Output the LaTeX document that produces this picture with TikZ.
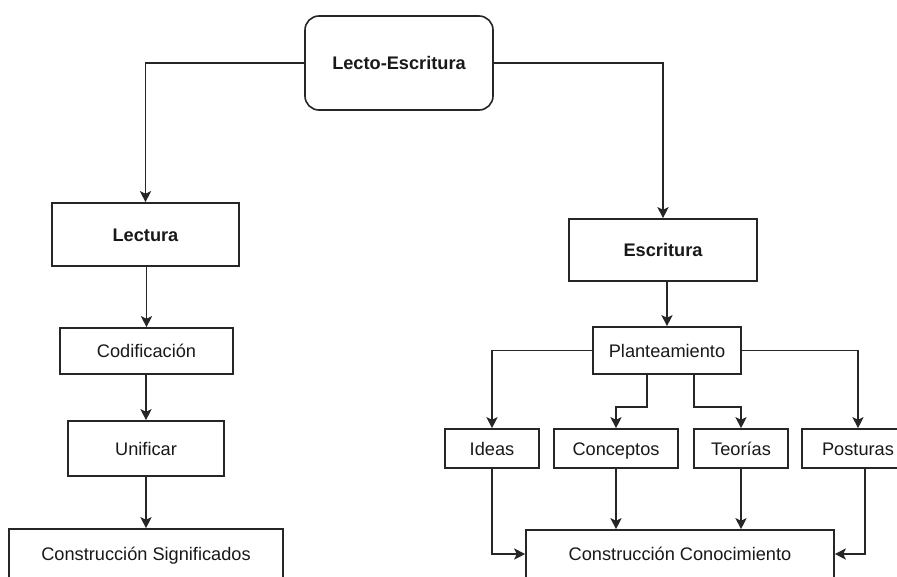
\documentclass[tikz,border=0pt]{standalone}
\usepackage{fontspec}
\setmainfont{Liberation Sans}
\usetikzlibrary{arrows.meta,calc}
\begin{document}
\begin{tikzpicture}[x=1pt,y=-1pt,
  box/.style={draw=black!85,line width=1.6pt,fill=white,inner sep=0pt,
    font=\fontsize{18.2}{20}\selectfont,text=black!90,
    text height=13pt,text depth=0pt},
  bbox/.style={box,font=\fontsize{18.2}{20}\selectfont\bfseries},
  conn/.style={draw=black!85,line width=1.6pt,
    -{Stealth[length=11pt,width=11pt,inset=2.5pt]}}]
\useasboundingbox[fill=white] (0,0) rectangle (897,576);
% nodes
\node[bbox,rounded corners=14pt,minimum width=188pt,minimum height=94pt] (le) at (399,63) {Lecto-Escritura};
\node[bbox,minimum width=187pt,minimum height=63pt] (lec) at (145.5,234.5) {Lectura};
\node[bbox,minimum width=188pt,minimum height=62pt] (esc) at (663,250) {Escritura};
\node[box,minimum width=173pt,minimum height=46pt] (cod) at (146.5,351) {Codificación};
\node[box,minimum width=156pt,minimum height=55pt] (uni) at (146,448.5) {Unificar};
\node[box,minimum width=274pt,minimum height=50pt] (sig) at (146,554) {Construcción Significados};
\node[box,minimum width=148pt,minimum height=47pt] (plan) at (667,350.5) {Planteamiento};
\node[box,minimum width=94pt,minimum height=39pt] (ideas) at (492,448.5) {Ideas};
\node[box,minimum width=124pt,minimum height=39pt] (conc) at (616,448.5) {Conceptos};
\node[box,minimum width=94pt,minimum height=39pt] (teo) at (741,448.5) {Teorías};
\node[box,minimum width=112pt,minimum height=39pt] (post) at (858,448.5) {Posturas};
\node[box,minimum width=308pt,minimum height=48pt] (cono) at (680,554) {Construcción Conocimiento};
% connectors
\draw[conn] (le.west) -| (lec.north);
\draw[conn] (le.east) -| (esc.north);
\draw[conn] (lec.south -| cod.north) -- (cod.north);
\draw[conn] (cod.south -| uni.north) -- (uni.north);
\draw[conn] (uni.south -| sig.north) -- (sig.north);
\draw[conn] (esc.south -| plan.north) -- (plan.north);
\draw[conn] (plan.west) -| (ideas.north);
\draw[conn] (plan.east) -| (post.north);
\coordinate (pc) at ($(plan.south)+(-20,0)$);
\coordinate (pt) at ($(plan.south)+(27,0)$);
\draw[conn] (pc) -- ++(0,32) -| (conc.north);
\draw[conn] (pt) -- ++(0,32) -| (teo.north);
\draw[conn] (ideas.south) |- (cono.west);
\draw[conn] (conc.south) -- (conc.south |- cono.north);
\draw[conn] (teo.south) -- (teo.south |- cono.north);
\coordinate (ps) at ($(post.south)+(7,0)$);
\draw[conn] (ps) |- (cono.east);
\end{tikzpicture}
\end{document}
